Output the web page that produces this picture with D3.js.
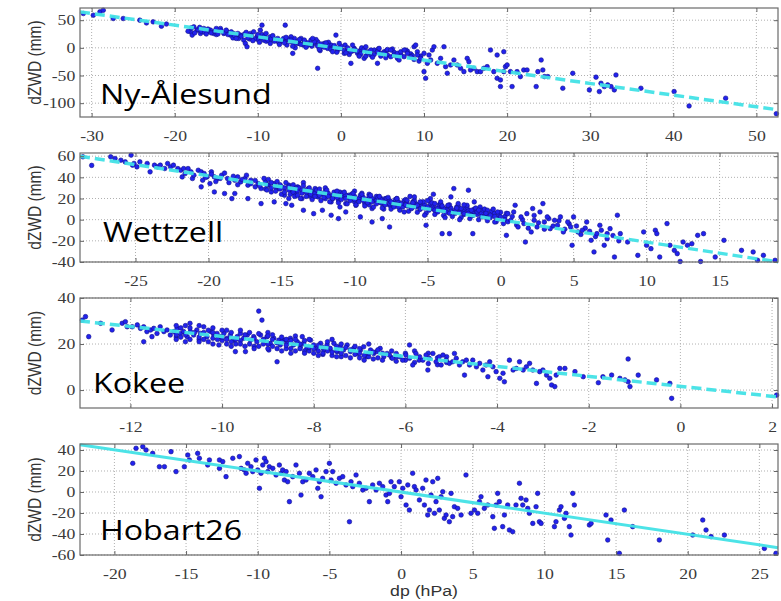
<!DOCTYPE html>
<html>
<head>
<meta charset="utf-8">
<script src="https://cdn.jsdelivr.net/npm/d3@7"></script>
<style>
body { margin: 0; background: #fff; }
</style>
</head>
<body>
<div id="chart"></div>
<script>

// ---- data ----
var stationNames = ["Ny-Ålesund", "Wettzell", "Kokee", "Hobart26"];

var nyXTicks = [-30, -20, -10, 0, 10, 20, 30, 40, 50];
var nyYTicks = [50, 0, -50, -100];
var nyXDomain = [-31.4, 52.6];
var nyYDomain = [-125, 72];
var nyFit = [[-31.4, 65], [52.6, -112]];
var nyPoints = [
  [-31.0,62],[-29.8,59],[-29.0,65],[-28.6,68],[-27.4,53],[-26.2,53],[-24.2,50],[-23.4,45],[-22.6,47],[-21.6,39],[-21.0,43],
  [-18.1,29],[-17.9,23],[-17.7,38],[-17.3,32],[-16.9,26],[-16.5,35],[-16.1,29],[-15.7,32],[-15.3,26],[-14.9,29],[-14.5,35],
  [-14.1,26],[-13.7,29],[-13.3,23],[-12.9,26],[-12.5,20],[-12.3,17],[-12.1,23],[-11.7,14],[-11.5,8],[-11.3,2],[-11.1,20],
  [-10.9,26],[-10.5,29],[-10.1,20],[-9.7,32],[-9.5,41],[-9.3,14],[-8.9,17],[-8.5,20],[-8.1,17],[-7.7,14],[-7.3,11],[-6.9,17],
  [-6.7,41],[-6.5,14],[-6.0,11],[-5.8,-10],[-5.6,17],[-5.2,8],[-4.8,17],[-4.4,11],[-4.0,5],[-3.6,14],[-3.2,8],[-2.8,11],
  [-2.8,-37],[-2.4,2],[-2.0,8],[-1.6,-1],[-1.2,5],[-0.8,2],[-0.6,23],[-0.4,-4],[0.0,-1],[0.4,-10],[0.8,-4],[1.2,-28],
  [1.6,-1],[2.0,-10],[2.4,-4],[2.8,-19],[3.2,-7],[3.6,-13],[4.0,-4],[4.4,-28],[4.8,-10],[5.2,-7],[5.6,-13],
  [-9,12],[-8,15],[-7.5,10],[-6,20],[-5,8],[-4.5,5],[-3.5,3],[-3,15],[-1.5,10],[-1,0],[0.5,5],[1.5,-5],[2.5,0],[3.5,-8],
  [-13,18],[-15,24],[-16,30],[-17,34],[-11,16],[-10,15],[-9.5,24],[-8.5,8],[-6.5,5],[-5.5,0],[-2.5,-5],[-0.5,-8],[1,-12],
  [3,-15],[4.5,-2],[5.5,-5],
  [-18.4,30],[-18.0,36],[-17.6,27],[-17.2,33],[-16.8,30],[-16.4,28],[-16.0,34],[-15.6,27],[-15.2,30],[-14.8,25],[-14.4,31],
  [-14.0,27],[-13.6,24],[-13.2,29],[-12.8,22],[-12.4,26],[-12.0,21],[-11.6,25],[-11.2,18],[-10.8,22],[-10.4,16],[-10.0,24],
  [-9.6,18],[-9.2,21],[-8.8,14],[-8.4,16],[-8.0,12],[-7.6,17],[-7.2,13],[-6.8,9],[-6.4,16],[-6.0,14],[-5.6,8],[-5.2,12],
  [-4.8,6],[-4.4,14],[-4.0,9],[-3.6,6],[-3.2,11],[-2.8,3],[-2.4,7],[-2.0,1],[-1.6,5],[-1.2,-3],[-0.8,4],[-0.4,-1],[0.0,3],
  [0.4,-5],[0.8,0],[1.2,-7],[1.6,-3],[2.0,-6],[2.4,-11],[2.8,-2],[3.2,-9],[3.6,-4],[4.0,-12],[4.4,-7],[4.8,-15],[5.2,-10],
  [5.6,-3],[6.0,-16],[6.4,-8],[6.8,-19],[7.2,-12],[7.6,-16],[8.0,-6],[8.4,-11],[8.8,-21],[9.2,-7],[9.6,-15],
  [-17.0,37],[-16.2,25],[-15.0,35],[-13.8,32],[-12.6,17],[-11.4,28],[-10.6,13],[-9.8,10],[-9.0,26],[-8.2,22],[-7.4,6],
  [-6.6,19],[-5.8,3],[-5.0,15],[-4.2,1],[-3.4,17],[-2.6,-3],[-1.8,9],[-1.0,-7],[-0.2,8],[0.6,-9],[1.4,5],[2.2,-15],[3.0,2],
  [3.8,-17],[4.6,-1],[5.4,-18],[6.2,-2],[7.0,-22],[7.8,-4],[8.6,-14],[9.4,-24],
  [6.0,-4],[6.4,-13],[6.8,-10],[7.2,-7],[7.6,-4],[8.0,-10],[8.4,-16],[8.8,2],[9.0,5],[9.2,-13],[9.6,-19],[10.0,-10],
  [10.0,-43],[10.2,-55],[10.4,-28],[10.6,-13],[10.8,-22],[11.0,-4],[11.2,2],[11.6,-28],[12.0,-19],[12.4,2],[12.6,-34],
  [12.8,-46],[13.2,-31],[13.6,-22],[14.0,-31],[14.4,-37],[14.8,-43],[15.2,-19],[15.4,-25],[15.6,-40],[16.0,-37],[16.4,-43],
  [16.8,-43],[17.2,-37],[17.6,-34],[18.0,-4],[18.4,-43],[18.8,-13],[18.8,-55],[19.2,-58],[19.2,-70],[19.6,-43],[19.8,-34],
  [19.6,-7],[20.0,-31],[20.4,-43],[20.6,-70],[21.2,-43],[21.6,-52],[22.0,-40],[22.4,-40],[23.5,-70],[23.7,-43],[24.1,-22],
  [24.3,-40],[24.5,-52],[24.9,-52],[26.7,-73],[27.9,-46],[29.9,-76],[30.7,-53],[31.1,-79],[31.3,-64],[31.7,-70],[32.1,-67],
  [32.5,-70],[32.9,-76],[33.1,-49],[36.1,-73],[40.1,-79],[41.9,-105],[46.3,-91],[52.4,-119]
];

var wzXTicks = [-25, -20, -15, -10, -5, 0, 5, 10, 15];
var wzYTicks = [60, 40, 20, 0, -20, -40];
var wzXDomain = [-28.8, 19.0];
var wzYDomain = [-40, 63];
var wzFit = [[-28.8, 60], [19.0, -40]];
var wzPoints = [
  [-28.6,59.4],[-28.0,51.3],[-26.7,59.4],[-26.4,57.8],[-26.0,56.2],[-25.7,54.6],[-25.3,61],[-25.2,51.5],[-25.1,53.1],
  [-24.9,49.9],[-24.7,54.6],[-24.2,53.1],[-24.0,45.2],[-23.7,51.5],[-23.5,49.9],[-23.3,51.5],[-23.0,48.3],[-22.8,53.1],
  [-22.6,49.9],[-22.4,51.5],[-22.1,48.3],[-21.9,46.7],[-21.8,40.4],[-21.7,48.3],[-21.6,43.6],[-21.4,48.3],[-21.2,45.2],
  [-21.1,38.9],[-21.0,42.0],[-20.7,46.7],[-20.5,45.2],[-20.4,37.3],[-20.3,43.6],[-20.1,40.4],[-19.9,34.1],[-19.8,45.2],
  [-19.6,40.4],[-19.4,38.9],[-19.1,42.0],[-18.9,24.7],[-18.7,38.9],[-18.4,19.9],[-18.2,37.3],[-18.0,40.4],[-17.8,35.7],
  [-17.5,38.9],[-17.3,32.6],[-17.1,37.3],[-16.8,31.0],[-16.6,34.1],[-16.4,29.4],[-16.1,35.7],[-15.9,32.6],[-15.7,26.2],
  [-15.5,34.1],[-15.2,29.4],[-15.0,31.0],[-14.8,23.1],[-14.7,15.2],[-14.5,32.6],[-14.3,27.8],[-14.1,24.7],[-13.9,31.0],
  [-13.6,19.9],[-13.4,27.8],[-13.2,23.1],[-12.9,26.2],[-12.8,5.7],[-12.7,29.4],[-12.5,21.5],[-12.2,24.7],[-12.0,19.9],
  [-11.8,23.1],[-11.6,16.8],[-11.3,24.7],[-11.1,18.4],[-10.9,21.5],[-10.6,15.2],[-10.4,23.1],[-10.2,19.9],[-9.9,13.6],
  [-9.7,18.4],[-9.5,21.5],[-9.3,15.2],[-9.0,19.9],[-8.8,10.5],[-8.6,18.4],[-8.3,16.8],[-8.1,15.2],[-7.9,19.9],[-7.6,13.6],
  [-14.3,13.6],[-13.5,8.9],[-12.2,8.9],[-11.6,4.2],[-11.1,1.0],[-10.6,7.3],[-9.6,2.6],[-8.8,-2.2],[-8.1,1.0],[-7.6,-6.9],
  [-16.4,15.2],[-15.5,16.8],[-18.2,24.7],[-17.3,19.9],[-20.5,31.0],[-19.6,26.2],
  [-14,30],[-13,22],[-12.5,27],[-12,30],[-11.5,20],[-11,26],[-10.5,22],[-10,17],[-9.5,25],[-9,14],[-8.5,22],[-8,10],
  [-14.5,20],[-13.5,35],[-11,12],[-10,27],[-9,24],[-8.2,20],
  [-20.2,40],[-19.8,43],[-19.5,36],[-19.2,39],[-18.9,44],[-18.6,35],[-18.3,41],[-18.0,33],[-17.7,38],[-17.4,42],[-17.1,34],
  [-16.8,37],[-16.5,32],[-16.2,39],[-16.1,29],
  [-16.0,33],[-16.0,28],[-15.9,38],[-15.7,30],[-15.7,35],[-15.4,31],[-15.4,27],[-15.3,36],[-15.1,29],[-15.1,33],[-15.0,24],
  [-14.8,30],[-14.8,26],[-14.7,35],[-14.5,28],[-14.4,24],[-14.5,31],[-14.2,29],[-14.2,26],[-14.1,22],[-14.2,33],[-13.9,27],
  [-13.9,23],[-13.8,30],[-13.6,28],[-13.6,25],[-13.7,20],[-13.5,32],[-13.3,26],[-13.3,22],[-13.2,29],[-13.0,27],[-13.0,24],
  [-12.9,19],[-13.1,30],[-12.7,25],[-12.7,22],[-12.6,28],[-12.4,26],[-12.4,23],[-12.3,18],[-12.4,29],[-12.1,24],[-12.1,21],
  [-12.0,27],[-11.8,25],[-11.8,22],[-11.7,17],[-11.9,28],[-11.5,23],[-11.5,20],[-11.4,26],[-11.2,24],[-11.2,21],[-11.1,16],
  [-11.2,27],[-10.9,22],[-10.9,19],[-10.8,25],[-10.6,23],[-10.6,20],[-10.5,15],[-10.7,26],[-10.3,21],[-10.3,18],[-10.2,24],
  [-10.0,22],[-10.0,19],[-9.9,14],[-10.1,25],[-9.7,20],[-9.7,17],[-9.6,23],[-9.4,21],[-9.4,18],[-9.3,13],[-9.5,24],[-9.1,19],
  [-9.1,16],[-9.0,22],[-8.8,20],[-8.8,17],[-8.7,12],[-8.9,23],[-8.5,18],[-8.5,15],[-8.4,21],[-8.2,19],[-8.2,16],[-8.1,11],
  [-8.3,22],[-7.9,17],[-7.9,14],[-7.8,20],[-7.6,18],[-7.6,15],[-7.5,10],[-7.7,21],[-7.3,16],[-7.3,13],[-7.2,19],[-7.0,17],
  [-7.0,14],[-6.9,9],[-7.1,20],[-6.7,15],[-6.7,12],[-6.6,18],[-6.4,16],[-6.4,13],[-6.3,8],[-6.5,19],[-6.1,14],[-6.1,11],
  [-6.0,17],[-5.8,15],[-5.8,12],[-5.7,7],[-5.9,18],[-5.5,13],[-5.5,10],[-5.4,16],[-5.2,14],[-5.2,11],[-5.1,6],[-5.3,17],
  [-4.9,12],[-4.9,9],[-4.8,15],[-4.6,13],[-4.6,10],[-4.5,5],[-4.7,16],[-4.3,11],[-4.3,8],[-4.2,14],[-4.0,12],[-4.0,9],
  [-3.9,4],[-4.1,15],[-3.7,10],[-3.7,7],[-3.6,13],[-3.4,11],[-3.4,8],[-3.3,3],[-3.5,14],[-3.1,9],[-3.1,6],[-3.0,12],
  [-2.8,10],[-2.8,7],[-2.7,2],[-2.9,13],[-2.5,8],[-2.5,5],[-2.4,11],[-2.2,9],[-2.2,6],[-2.1,1],[-2.3,12],[-1.9,7],[-1.9,4],
  [-1.8,10],[-1.6,8],[-1.6,5],[-1.5,0],[-1.7,11],[-1.3,6],[-1.3,3],[-1.2,9],[-1.0,7],[-1.0,4],[-0.9,-1],[-1.1,10],[-0.7,5],
  [-0.7,2],[-0.6,8],[-0.4,6],[-0.4,3],[-0.3,-2],[-0.1,4],[-0.1,1],[0.0,7],[0.3,3],[0.3,0],[0.4,6],
  [0.5,-2],[0.8,3],[1.1,-5],[1.5,0],[1.9,-8],[2.3,4],[2.6,-3],[3.0,-9],[3.3,1],[3.6,-6],[4.0,-1],[4.4,-9],[4.7,-4],
  [5.2,-6],[5.5,-14],[5.8,-8],[6.1,-11],[6.5,-16],[6.9,-10],[7.3,-18],[7.7,-15],[8.1,-20],
  [-7.5,16.8],[-7.3,12.0],[-7.1,19.9],[-6.8,15.2],[-6.6,7.3],[-6.4,18.4],[-6.1,10.5],[-5.9,21.5],[-5.7,13.6],[-5.5,16.8],
  [-5.2,4.2],[-5.1,-5.3],[-5.0,12.0],[-4.8,19.9],[-4.5,15.2],[-4.3,7.3],[-4.1,16.8],[-4.0,-13.2],[-3.9,10.5],[-3.6,13.6],
  [-3.5,-13.2],[-3.4,21.5],[-3.2,29.4],[-3.1,7.3],[-2.9,15.2],[-2.7,10.5],[-2.5,5.7],[-2.3,13.6],[-2.2,27.8],[-2.0,8.9],
  [-1.9,-13.2],[-1.8,16.8],[-1.6,7.3],[-1.4,12.0],[-1.1,2.6],[-0.9,8.9],[-0.7,4.2],[-0.4,-2.2],[-0.2,7.3],[0.0,2.6],
  [0.2,-3.7],[0.4,-14.8],[0.5,5.7],[0.7,-0.6],[0.9,7.3],[1.0,13.6],[1.2,-6.9],[1.4,2.6],[1.6,-3.7],[1.7,-21.1],[1.8,5.7],
  [2.1,-11.6],[2.2,10.5],[2.3,-0.6],[2.5,-6.9],[2.7,7.3],[2.9,15.2],[3.0,-2.2],[3.2,2.6],[3.4,-8.5],[3.7,-0.6],[3.9,-5.3],
  [4.1,2.6],[4.3,-11.6],[4.6,-2.2],[4.8,-6.9],[4.9,-24.2],[5.0,2.6],[5.3,-11.6],[5.6,-10.0],[5.9,-2.2],[6.2,-19.5],
  [6.4,-30.5],[6.6,-13.2],[6.8,-5.3],[7.1,-24.2],[7.3,-13.2],[7.5,-8.5],[7.8,-35.3],[8.0,4.2],[8.2,-13.2],[8.7,-21.1],
  [9.4,-33.7],[9.8,-11.6],[10.0,-24.2],[10.3,-27.4],[10.6,-10.0],[10.7,-13.2],[10.9,-35.3],[11.4,-3.7],[11.6,-24.2],
  [11.9,-29.0],[12.1,-32.1],[12.3,-39.5],[12.5,-21.1],[12.8,-24.2],[13.1,-22.7],[13.5,-14.8],[13.7,-39.5],[13.9,-13.2],
  [14.7,-35.3],[15.3,-19.5],[16.5,-29.0],[17.3,-30.5],[17.6,-38.4],[18.0,-33.7],[18.8,-38.4],
  [-7,12],[-6.5,14],[-6,16],[-5.5,10],[-5,18],[-4.5,9],[-4,13],[-3.5,6],[-3,11],[-2.5,14],[-2,4],[-1.5,9],[-1,6],[-0.5,10],
  [-6.2,22],[-4.6,24],[-3.8,2],[-2.8,0]
];

var kkXTicks = [-12, -10, -8, -6, -4, -2, 0, 2];
var kkYTicks = [40, 20, 0];
var kkXDomain = [-13.1, 2.13];
var kkYDomain = [-7.8, 40];
var kkFit = [[-13.1, 30], [2.13, -3]];
var kkPoints = [
  [-13.05,30.4],[-12.98,31.9],[-12.91,23.2],[-12.65,29.0],[-12.40,26.1],[-12.18,29.0],[-12.11,29.7],[-12.07,27.5],
  [-11.96,27.5],[-11.85,28.3],[-11.78,26.8],[-11.71,27.5],[-11.71,21.0],[-11.64,25.4],[-11.56,26.1],[-11.53,23.2],
  [-11.49,26.8],[-11.42,24.6],[-11.35,27.5],[-11.27,25.4],[-11.20,26.1],[-11.13,23.9],[-11.05,25.4],[-10.98,26.8],
  [-10.91,24.6],[-10.84,25.4],[-10.76,23.2],[-10.69,25.4],[-10.62,23.9],[-10.55,26.1],[-10.47,24.6],[-10.40,27.5],
  [-10.33,23.2],[-10.25,25.4],[-10.18,23.9],[-10.11,24.6],[-10.07,19.6],[-10.04,23.2],[-9.96,24.6],[-9.89,22.5],
  [-9.82,23.9],[-9.75,21.7],[-9.71,16.7],[-9.67,23.2],[-9.60,24.6],[-9.53,22.5],[-9.49,16.7],[-9.45,23.9],[-9.38,21.7],
  [-9.31,23.2],[-9.24,21.0],[-9.20,34.3],[-9.16,23.9],[-9.13,30.4],[-9.09,21.7],[-9.02,23.2],[-8.98,17.4],[-8.95,20.3],
  [-8.87,22.5],[-8.80,12.3],[-8.76,21.7],[-8.73,19.6],[-8.65,21.7],[-8.58,20.3],[-8.51,22.5],[-8.44,19.6],[-8.36,21.0],
  [-8.29,18.8],[-8.25,23.2],[-8.22,20.3],[-8.15,18.1],[-8.07,21.7],[-8.00,19.6],[-7.93,18.1],[-7.85,20.3],[-7.78,17.4],
  [-7.71,19.6],[-7.64,18.1],[-7.56,20.3],[-7.49,16.7],[-7.42,18.8],[-7.35,17.4],[-7.27,19.6],[-7.20,16.7],[-7.13,18.1],
  [-7.05,15.9],[-6.98,17.4],[-6.91,18.8],[-6.84,14.5],[-6.76,17.4],[-6.69,15.9],[-6.62,16.7],[-6.55,18.1],[-6.47,14.5],
  [-6.40,15.9],
  [-11,23],[-10.5,22],[-10,21.5],[-9.7,20],[-9.3,19],[-9,25],[-8.6,18],[-8.2,17],[-7.8,15.5],[-7.4,14.5],[-7,14],
  [-6.8,20],[-10.8,28],[-9.9,26],[-8.4,23.5],[-7.6,22],[-8.9,22],[-10.2,22.5],
  [-11.0,22],[-11.0,24],[-11.0,28],[-10.9,23],[-10.9,27],[-10.8,21],[-10.8,24],[-10.7,22],[-10.7,27],[-10.7,29],
  [-10.6,25],[-10.5,21],[-10.5,23],[-10.5,28],[-10.4,22],[-10.4,25],[-10.3,26],[-10.3,21],[-10.2,20],[-10.2,25],[-10.2,27],
  [-10.1,22],[-10.0,23],[-10.0,26],[-9.9,20],[-9.9,22],[-9.8,21],[-9.8,25],[-9.8,19],[-9.7,22],[-9.6,21.5],[-9.6,20],
  [-9.6,26],[-9.5,19],[-9.5,24],[-9.4,20],[-9.4,25],[-9.3,22.5],[-9.3,18],[-9.2,19],[-9.2,24.5],[-9.1,20],[-9.1,22],
  [-9.0,18],[-9.0,20],[-9.0,23.5],[-8.9,19],[-8.9,24],[-8.8,18],[-8.8,20.5],[-8.7,17],[-8.7,21],[-8.7,23],[-8.6,19.5],
  [-8.6,22],[-8.5,18],[-8.5,16],[-8.5,21.5],[-8.4,17],[-8.4,22],[-8.3,18],[-8.3,20],[-8.2,16],[-8.2,21.5],[-8.1,17],
  [-8.1,18.5],[-8.1,22],[-8.0,16],[-8.0,18],[-7.9,17],[-7.9,19.5],[-7.9,15],[-7.8,16],[-7.8,18.5],[-7.7,17],[-7.7,21],
  [-7.6,15],[-7.6,16.5],[-7.5,17],[-7.5,19],[-7.5,14.5],[-7.4,16],[-7.4,20],[-7.3,15],[-7.3,18.5],[-7.2,14],[-7.2,17.5],
  [-7.1,15.5],[-7.1,19],[-7.0,16],[-7.0,18],[-6.9,15],[-6.9,13],[-6.8,14.5],[-6.8,16],[-6.7,13.5],[-6.7,16.5],[-6.6,14],
  [-6.6,17.5],[-6.5,13],[-6.5,16],[-6.3,14],[-6.3,17],[-6.2,12.5],[-6.2,14.5],[-6.0,13],[-6.0,16],[-5.8,12],[-5.8,17],
  [-5.7,13],[-5.5,11.5],[-5.5,16],[-5.3,14],[-5.3,11],[-5.1,12],[-5.1,14.5],
  [-6.35,15.2],[-6.28,13.8],[-6.20,15.9],[-6.13,14.5],[-6.06,13.0],[-5.99,15.2],[-5.91,13.8],[-5.91,19.6],[-5.84,10.9],
  [-5.77,15.9],[-5.69,14.5],[-5.62,13.0],[-5.55,15.2],[-5.51,8.7],[-5.48,13.8],[-5.40,15.9],[-5.33,12.3],[-5.26,14.5],
  [-5.22,10.9],[-5.18,15.2],[-5.11,13.0],[-5.04,11.6],[-4.97,12.3],[-4.93,15.9],[-4.89,13.8],[-4.82,10.9],[-4.75,12.3],
  [-4.71,6.5],[-4.67,13.0],[-4.60,10.9],[-4.53,13.0],[-4.45,10.1],[-4.38,11.6],[-4.31,8.7],[-4.24,10.9],[-4.20,5.8],
  [-4.16,12.3],[-4.09,10.1],[-4.02,8.0],[-3.94,5.1],[-3.87,7.3],[-3.84,3.6],[-3.73,13.0],[-3.65,8.7],[-3.58,9.4],
  [-3.51,12.3],[-3.43,8.7],[-3.36,10.1],[-3.29,11.6],[-3.22,8.7],[-3.14,2.9],[-3.07,8.0],[-3.00,8.7],[-2.92,6.5],
  [-2.85,5.1],[-2.81,2.2],[-2.74,1.5],[-2.71,6.5],[-2.63,9.4],[-2.52,9.4],[-2.30,8.0],[-2.12,5.8],[-1.79,3.2],[-1.69,5.8],
  [-1.50,6.5],[-1.32,5.1],[-1.21,4.4],[-1.14,3.6],[-1.14,13.5],[-1.10,1.5],[-0.92,6.5],[-0.52,4.4],[-0.23,2.9],
  [-0.19,-3.6],[2.10,-2.2]
];

var hbXTicks = [-20, -15, -10, -5, 0, 5, 10, 15, 20, 25];
var hbYTicks = [40, 20, 0, -20, -40, -60];
var hbXDomain = [-22.4, 26.3];
var hbYDomain = [-60, 45.7];
var hbFit = [[-22.4, 45], [26.3, -53]];
var hbPoints = [
  [-18.72,27.3],[-18.49,41.6],[-18.02,43.2],[-17.79,40.0],[-17.33,36.8],[-16.86,24.1],[-16.51,24.1],[-16.05,38.4],
  [-15.70,19.4],[-15.12,24.1],[-14.88,35.2],[-14.77,30.5],[-14.19,36.8],[-14.07,32.1],[-13.49,25.7],[-13.37,30.5],
  [-12.67,30.5],[-12.67,22.5],[-12.44,28.9],[-12.21,14.6],[-11.74,32.1],[-11.28,33.7],[-11.16,22.5],[-10.93,21.0],
  [-10.81,17.8],[-10.70,27.3],[-10.47,24.1],[-10.35,19.4],[-10.12,30.5],[-10.00,21.0],[-9.88,3.5],[-9.77,17.8],
  [-9.65,25.7],[-9.53,32.1],[-9.42,28.9],[-9.30,19.4],[-9.19,24.1],[-8.95,22.5],[-8.72,16.2],[-8.49,25.7],[-8.37,17.8],
  [-8.26,21.0],[-8.14,11.4],[-8.02,19.4],[-7.91,9.8],[-7.79,-9.2],[-7.56,14.6],[-7.33,25.7],[-7.09,17.8],[-6.98,-2.9],
  [-6.86,9.8],[-6.63,11.4],[-6.40,17.8],[-6.16,14.6],[-5.93,21.0],[-5.81,3.5],[-5.70,9.8],[-5.58,-4.5],[-5.47,13.0],
  [-5.23,19.4],[-5.00,27.3],[-4.88,11.4],[-4.77,19.4],[-4.53,8.3],[-4.30,13.0],[-4.07,14.6],[-3.84,6.7],[-3.60,-28.3],
  [-3.49,9.8],[-3.37,5.1],[-3.14,16.2],[-2.91,8.3],[-2.67,1.9],[-2.44,3.5],[-2.21,-9.2],[-1.98,6.7],[-1.74,1.9],
  [-1.51,8.3],[-1.28,5.1],[-1.05,-2.9],[-0.93,-9.2],
  [-0.81,-1.3],[-0.70,9.8],[-0.47,5.1],[-0.12,9.8],[0.00,-4.5],[0.12,3.5],[0.35,-12.4],[0.47,6.7],[0.58,-17.2],
  [0.81,17.8],[0.93,5.1],[1.05,1.9],[1.28,-7.6],[1.51,3.5],[1.63,-12.4],[1.74,11.4],[1.86,-21.9],[1.98,-17.2],
  [2.09,-2.9],[2.21,9.8],[2.33,-20.3],[2.44,-9.2],[2.56,13.0],[2.67,-17.2],[2.79,-4.5],[2.91,0.3],[3.02,-25.1],
  [3.14,-21.9],[3.37,-28.3],[3.49,-1.3],[3.60,-23.5],[3.72,-14.0],[3.95,-15.6],[4.19,-21.9],[4.53,16.2],[4.88,-20.3],
  [5.12,-17.2],[5.35,-20.3],[5.47,-9.2],[5.58,-4.5],[5.81,-15.6],[6.05,-12.4],[6.40,-23.5],[6.51,-34.6],[6.63,-12.4],
  [6.74,-1.3],[6.86,-9.2],[7.09,-33.0],[7.21,-21.9],[7.44,-12.4],[7.56,-36.2],[7.79,-37.8],[8.02,-12.4],[8.26,8.3],
  [8.37,-6.0],[8.49,-12.4],[8.72,-7.6],[8.84,-15.6],[8.95,-20.3],[9.19,-29.9],[9.42,-14.0],[9.53,-1.3],[9.65,-28.3],
  [9.77,-29.9],[10.70,-33.0],[10.81,-28.3],[11.05,-17.2],[11.16,-14.0],[11.40,-25.1],[11.51,-20.3],[11.74,-33.0],
  [11.86,-41.0],[11.98,-1.3],[12.09,-12.4],[13.14,-31.4],[13.26,-29.9],[14.30,-21.9],[14.42,-45.7],[14.65,-26.7],
  [15.23,-58.4],[15.58,-17.2],[16.16,-33.0],[18.02,-45.7],[20.35,-41.0],[21.05,-26.7],[21.28,-36.2],[21.63,-42.5],
  [22.56,-41.0],[25.35,-53.7],[26.16,-58.4]
];

// ---- layout ----
var width = 781, height = 601;
var plotLeft = 80, plotRight = 778;
var stretch = 1.18; // the source picture is slightly wider than tall

var panels = [
  { name: stationNames[0], top: 8,   bottom: 117, xDomain: nyXDomain, yDomain: nyYDomain, xTicks: nyXTicks, yTicks: nyYTicks, points: nyPoints, fit: nyFit, dashed: true,  labelX: 100, labelY: 104 },
  { name: stationNames[1], top: 153, bottom: 262, xDomain: wzXDomain, yDomain: wzYDomain, xTicks: wzXTicks, yTicks: wzYTicks, points: wzPoints, fit: wzFit, dashed: true,  labelX: 103, labelY: 242 },
  { name: stationNames[2], top: 298, bottom: 408, xDomain: kkXDomain, yDomain: kkYDomain, xTicks: kkXTicks, yTicks: kkYTicks, points: kkPoints, fit: kkFit, dashed: true,  labelX: 93,  labelY: 393 },
  { name: stationNames[3], top: 444, bottom: 555, xDomain: hbXDomain, yDomain: hbYDomain, xTicks: hbXTicks, yTicks: hbYTicks, points: hbPoints, fit: hbFit, dashed: false, labelX: 100, labelY: 540 }
];

var serif = "'Liberation Serif', 'Times New Roman', serif";
var sans = "'Liberation Sans', Arial, sans-serif";
var plain = function(d) { return String(d); };

var svg = d3.select("#chart")
    .append("svg")
        .attr("width", width)
        .attr("height", height);

panels.forEach(function(p) {

    var xScale = d3.scaleLinear().domain(p.xDomain).range([plotLeft, plotRight]);
    var yScale = d3.scaleLinear().domain(p.yDomain).range([p.bottom, p.top]);

    var g = svg.append("g");

    // dotted grid
    g.append("g")
        .selectAll("line")
        .data(p.xTicks)
        .enter()
        .append("line")
            .attr("x1", function(d) { return xScale(d); })
            .attr("x2", function(d) { return xScale(d); })
            .attr("y1", p.top)
            .attr("y2", p.bottom)
            .attr("stroke", "#b0b0b0")
            .attr("stroke-width", 1)
            .attr("stroke-dasharray", "1,2");

    g.append("g")
        .selectAll("line")
        .data(p.yTicks)
        .enter()
        .append("line")
            .attr("x1", plotLeft)
            .attr("x2", plotRight)
            .attr("y1", function(d) { return yScale(d); })
            .attr("y2", function(d) { return yScale(d); })
            .attr("stroke", "#b0b0b0")
            .attr("stroke-width", 1)
            .attr("stroke-dasharray", "1,2");

    // points
    g.append("g")
        .selectAll("circle")
        .data(p.points)
        .enter()
        .append("circle")
            .attr("cx", function(d) { return xScale(d[0]); })
            .attr("cy", function(d) { return yScale(d[1]); })
            .attr("r", 2.3)
            .attr("fill", "#2222ee")
            .attr("stroke", "#12128a")
            .attr("stroke-width", 0.6);

    // fit line
    var line = d3.line()
        .x(function(d) { return xScale(d[0]); })
        .y(function(d) { return yScale(d[1]); });

    g.append("path")
        .datum(p.fit)
        .attr("d", line)
        .attr("fill", "none")
        .attr("stroke", "#42e2e6")
        .attr("stroke-width", p.dashed ? 3.5 : 3)
        .attr("stroke-dasharray", p.dashed ? "10,5" : null)
        .attr("opacity", 0.95);

    // axes with inward ticks
    var xAxis = g.append("g")
        .attr("transform", "translate(0," + p.bottom + ")")
        .call(d3.axisBottom(xScale).tickValues(p.xTicks).tickFormat(plain)
            .tickSizeInner(-4).tickSizeOuter(0).tickPadding(13));

    var yAxis = g.append("g")
        .attr("transform", "translate(" + plotLeft + ",0)")
        .call(d3.axisLeft(yScale).tickValues(p.yTicks).tickFormat(plain)
            .tickSizeInner(-4).tickSizeOuter(0).tickPadding(4));

    g.append("g")
        .attr("transform", "translate(0," + p.top + ")")
        .call(d3.axisTop(xScale).tickValues(p.xTicks).tickSizeInner(-4).tickSizeOuter(0).tickFormat(""));

    g.append("g")
        .attr("transform", "translate(" + plotRight + ",0)")
        .call(d3.axisRight(yScale).tickValues(p.yTicks).tickSizeInner(-4).tickSizeOuter(0).tickFormat(""));

    g.selectAll(".domain").remove();
    g.selectAll(".tick line").attr("stroke", "#666");

    [xAxis, yAxis].forEach(function(ax) {
        ax.attr("font-family", null).attr("font-size", null);
        ax.selectAll(".tick text")
            .attr("fill", "#3a3a3a")
            .style("font-family", serif)
            .style("font-size", "15px")
            .attr("transform", "scale(" + stretch + ",1)");
    });

    // frame
    g.append("rect")
        .attr("x", plotLeft)
        .attr("y", p.top)
        .attr("width", plotRight - plotLeft)
        .attr("height", p.bottom - p.top)
        .attr("fill", "none")
        .attr("stroke", "#6a6a6a")
        .attr("stroke-width", 1.2);

    // y label
    g.append("text")
        .attr("transform", "translate(35," + ((p.top + p.bottom) / 2) + ") rotate(-90) scale(1," + stretch + ")")
        .attr("text-anchor", "middle")
        .attr("dy", "0.35em")
        .style("font-family", sans)
        .style("font-size", "15.5px")
        .attr("fill", "#333")
        .text("dZWD (mm)");

    // station name
    g.append("text")
        .attr("transform", "translate(" + p.labelX + "," + p.labelY + ") scale(1.15,1)")
        .style("font-family", "'Open Sans', sans-serif")
        .style("font-weight", "400")
        .style("font-size", "28px")
        .attr("fill", "#000")
        .text(p.name);
});

svg.append("text")
    .attr("transform", "translate(424,596) scale(" + stretch + ",1)")
    .attr("text-anchor", "middle")
    .style("font-family", sans)
    .style("font-size", "15px")
    .attr("fill", "#333")
    .text("dp (hPa)");

</script>
</body>
</html>
